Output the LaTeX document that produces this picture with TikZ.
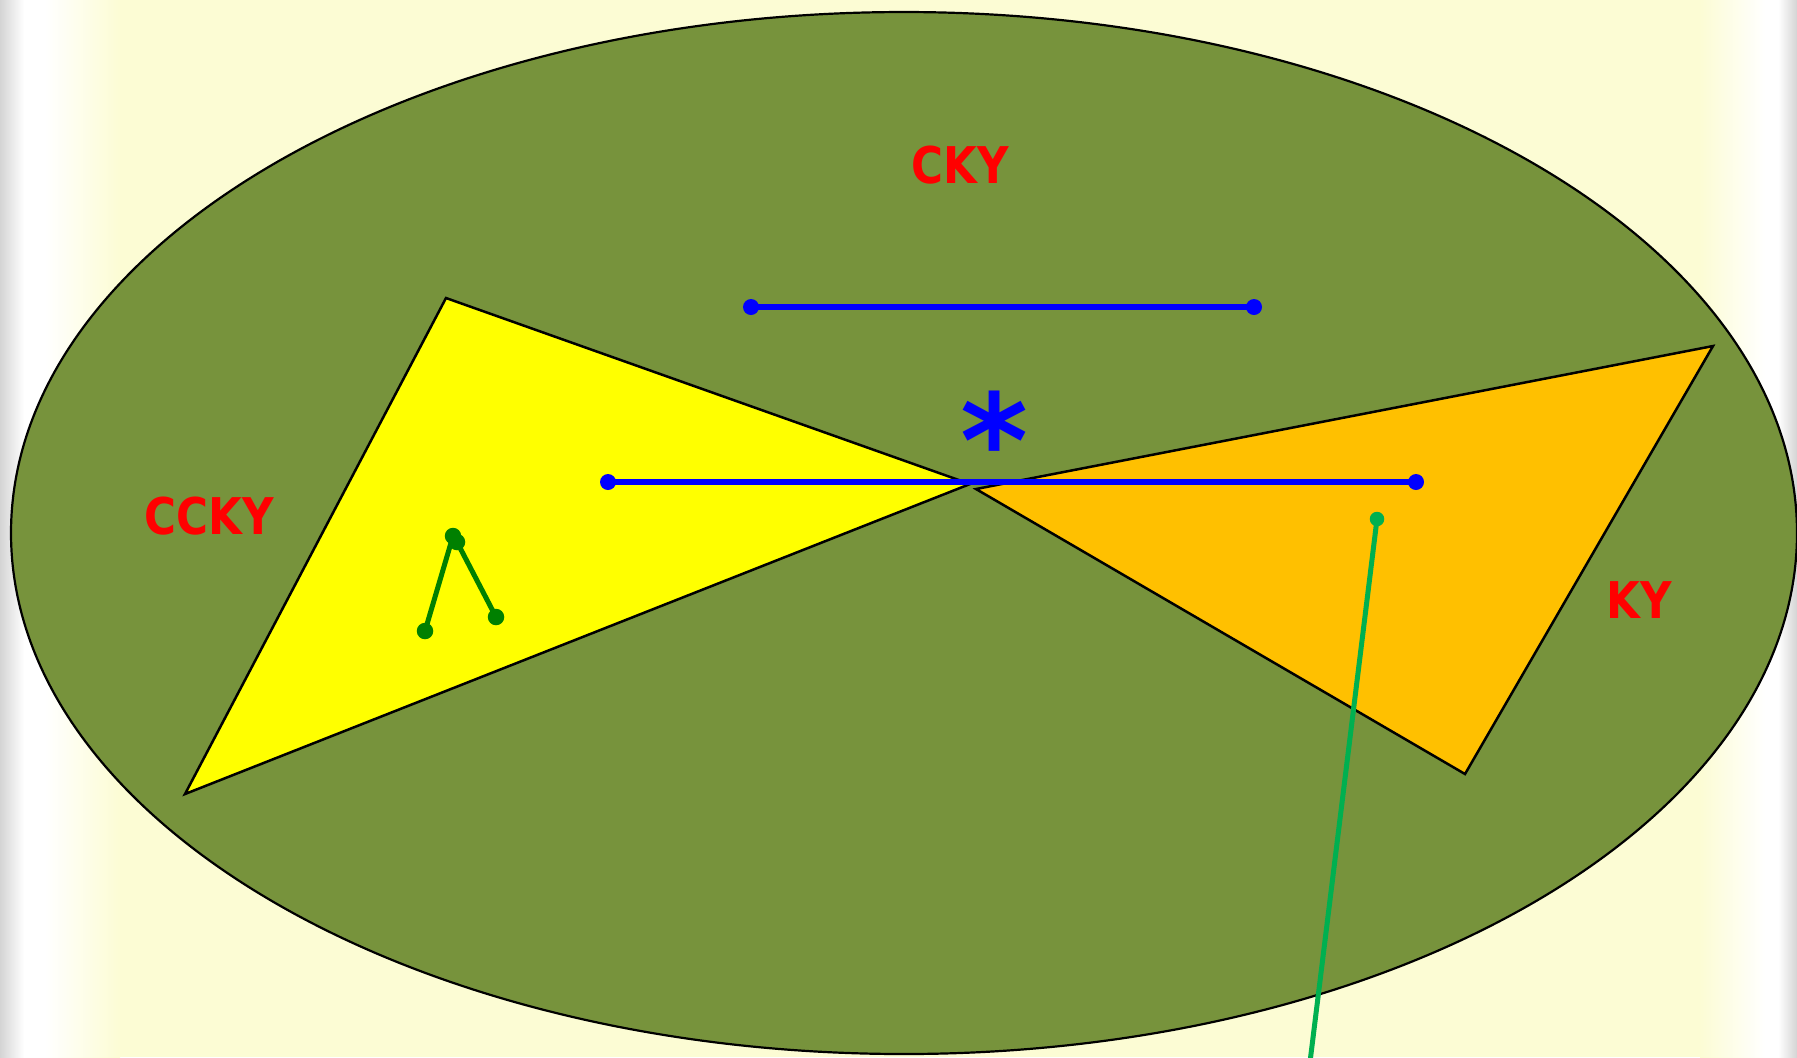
\documentclass[tikz,border=0pt]{standalone}
\usepackage{fontspec}
\newfontfamily\lblfont[FakeStretch=0.86]{DejaVu Sans}
\newfontfamily\starfont{DejaVu Sans}
\definecolor{pagebg}{HTML}{FCFCD4}
\definecolor{pageedge}{HTML}{D4D4D4}
\definecolor{olivefill}{HTML}{77933C}
\definecolor{trifill}{HTML}{FFFF00}
\definecolor{orangefill}{HTML}{FFC000}
\definecolor{lambdagreen}{HTML}{008000}
\definecolor{raygreen}{HTML}{00B050}
\tikzset{
  outline/.style={draw=black, line width=0.25mm, line join=miter},
  bluedot/.style={circle, fill=blue, inner sep=0pt, minimum size=1.6mm},
  bluebar/.style={draw=blue, line width=0.55mm},
  greendot/.style={circle, fill=lambdagreen, inner sep=0pt, minimum size=1.65mm},
  greenleg/.style={draw=lambdagreen, line width=0.5mm},
  raydot/.style={circle, fill=raygreen, inner sep=0pt, minimum size=1.45mm},
  ray/.style={draw=raygreen, line width=0.5mm},
  redlabel/.style={text=red, inner sep=0pt, font=\lblfont\bfseries\fontsize{14.4pt}{16pt}\selectfont},
}
\begin{document}
\begin{tikzpicture}[x=0.1mm, y=-0.1mm]
\useasboundingbox (0,0) rectangle (1797,1057);
% page background with soft side edges
\fill[pagebg] (0,0) rectangle (1797,1057);
\shade[left color=pageedge, right color=white] (0,0) rectangle (24,1057);
\fill[white] (24,0) rectangle (45,1057);
\shade[left color=white, right color=pagebg] (45,0) rectangle (120,1057);
\shade[left color=pagebg, right color=white] (1700,0) rectangle (1765,1057);
\fill[white] (1765,0) rectangle (1778,1057);
\shade[left color=white, right color=pageedge] (1778,0) rectangle (1797,1057);

% large ellipse
\draw[fill=olivefill, line width=0.22mm] (904,533) ellipse [x radius=89.3mm, y radius=52.1mm];

% the two triangles meeting near the centre
\filldraw[outline, fill=trifill] (446,298) -- (185,794) -- (970,484) -- cycle;
\filldraw[outline, fill=orangefill] (976,489) -- (1713,346) -- (1465,774) -- cycle;

% labels
\node[redlabel] (cky) at (960,165) {CKY};
\node[redlabel] (ccky) at (209,516) {CCKY};
\node[redlabel] (ky) at (1639,600) {KY};
\node[text=blue, inner sep=0pt, anchor=base, font=\starfont\bfseries\fontsize{37pt}{38pt}\selectfont] (star) at (994,487) {*};

% blue segments
\node[bluedot] (a1) at (751,307) {};
\node[bluedot] (a2) at (1254,307) {};
\draw[bluebar] (a1.center) -- (a2.center);
\node[bluedot] (b1) at (608,482) {};
\node[bluedot] (b2) at (1416,482) {};
\draw[bluebar] (b1.center) -- (b2.center);

% green lambda
\node[greendot] (l0) at (453,536) {};
\node[greendot] (l1) at (457,542) {};
\node[greendot] (l2) at (425,631) {};
\node[greendot] (l3) at (496,617) {};
\draw[greenleg] (l0.center) -- (l2.center);
\draw[greenleg] (l1.center) -- (l3.center);

% green ray leaving the picture
\node[raydot] (r0) at (1377,519) {};
\coordinate (r1) at (1310,1062);
\draw[ray] (r0.center) -- (r1);
\end{tikzpicture}
\end{document}
